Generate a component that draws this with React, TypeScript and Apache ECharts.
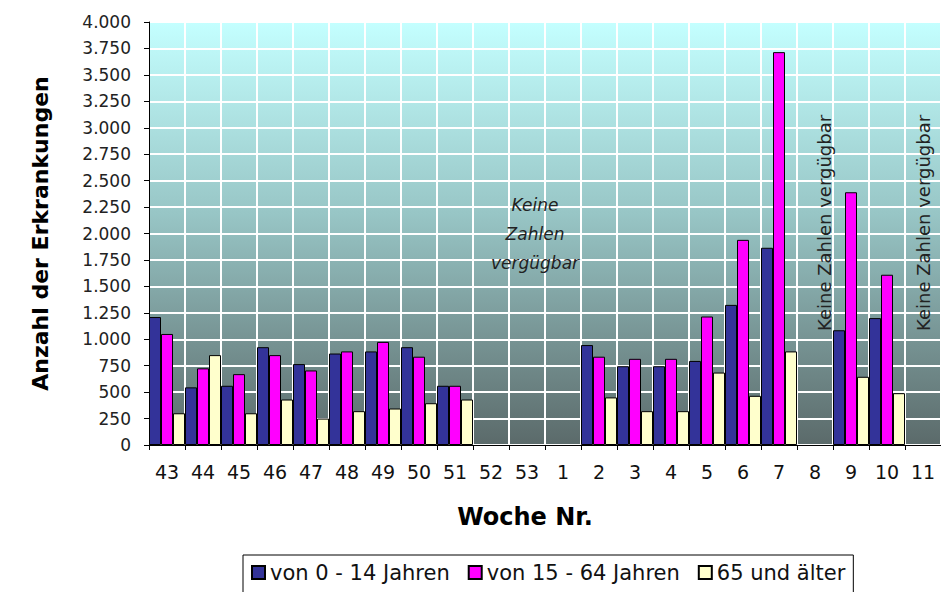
import React, { useEffect, useRef } from "react";
import * as echarts from "echarts";

const weeks = ["43", "44", "45", "46", "47", "48", "49", "50", "51", "52", "53", "1", "2", "3", "4", "5", "6", "7", "8", "9", "10", "11"];
const age0to14 = [1210, 545, 560, 925, 765, 865, 885, 925, 560, null, null, null, 945, 745, 745, 795, 1325, 1865, null, 1085, 1200, null];
const age15to64 = [1050, 725, 670, 850, 705, 885, 975, 835, 560, null, null, null, 835, 815, 815, 1215, 1940, 3715, null, 2390, 1610, null];
const age65plus = [300, 850, 300, 430, 250, 320, 345, 395, 430, null, null, null, 450, 320, 320, 685, 465, 885, null, 645, 490, null];
const seriesNames = ["von 0 - 14 Jahren", "von 15 - 64 Jahren", "65 und älter"];
const seriesColors = ["#333399", "#FF00FF", "#FFFFCC"];
const noteText = "Keine\nZahlen\nvergügbar";
const noteVertical = "Keine Zahlen vergügbar";
const noteAt: [string, number] = ["53", 2000];
const verticalNotesAt: [string, number][] = [["8", 2100], ["11", 2100]];

const FONT = "DejaVu Sans";

function fmt(v: number) {
  return String(v).replace(/\B(?=(\d{3})+(?!\d))/g, ".");
}

export default function App() {
  const ref = useRef<HTMLDivElement>(null);
  useEffect(() => {
    if (!ref.current) return;
    const chart = echarts.init(ref.current, undefined, { renderer: "svg" });
    const data = [age0to14, age15to64, age65plus];
    chart.setOption({
      animation: false,
      backgroundColor: "#ffffff",
      textStyle: { fontFamily: FONT },
      grid: {
        left: 149,
        top: 22,
        width: 799,
        height: 423,
        show: true,
        backgroundColor: new echarts.graphic.LinearGradient(0, 0, 0, 1, [
          { offset: 0, color: "#c4ffff" },
          { offset: 0.45, color: "#98c6c6" },
          { offset: 1, color: "#5b6a6a" },
        ]),
        borderColor: "#000",
        borderWidth: 1,
      },
      legend: {
        left: 243,
        top: 555,
        padding: [7, 8, 14, 8],
        borderColor: "#000",
        borderWidth: 1,
        backgroundColor: "#fff",
        itemWidth: 13,
        itemHeight: 13,
        itemGap: 18,
        icon: "rect",
        textStyle: { fontFamily: FONT, fontSize: 21, color: "#111" },
        data: seriesNames,
      },
      xAxis: {
        type: "category",
        data: weeks,
        name: "Woche Nr.",
        nameLocation: "middle",
        nameGap: 60,
        nameTextStyle: { fontFamily: FONT, fontWeight: "bold", fontSize: 24, color: "#000", padding: [0, 40, 0, 0] },
        axisLine: { lineStyle: { color: "#000", width: 1 } },
        axisTick: { show: true, interval: 0, length: 5, lineStyle: { color: "#000" } },
        axisLabel: { interval: 0, margin: 17, fontFamily: FONT, fontSize: 19, color: "#111" },
        splitLine: { show: true, interval: 0, lineStyle: { color: "#ffffff", width: 2 } },
      },
      yAxis: {
        type: "value",
        min: 0,
        max: 4000,
        interval: 250,
        name: "Anzahl der Erkrankungen",
        nameLocation: "middle",
        nameRotate: 90,
        nameGap: 98,
        nameTextStyle: { fontFamily: FONT, fontWeight: "bold", fontSize: 22, color: "#000" },
        axisLine: { show: true, lineStyle: { color: "#000", width: 1 } },
        axisTick: { show: true, length: 5, lineStyle: { color: "#000" } },
        axisLabel: { margin: 18, fontFamily: FONT, fontSize: 17, color: "#222", formatter: (v: number) => fmt(v) },
        splitLine: { show: true, lineStyle: { color: "#ffffff", width: 2 } },
      },
      series: seriesNames.map((name, i) => ({
        name,
        type: "bar",
        data: data[i],
        barGap: "0%",
        barCategoryGap: "0%",
        itemStyle: { color: seriesColors[i], borderColor: "#000", borderWidth: 1 },
      })),
    });

    const p = chart.convertToPixel({ gridIndex: 0 }, noteAt as any) as number[];
    const graphics: any[] = [
      {
        type: "text",
        x: p[0] + 8,
        y: p[1],
        z: 10,
        style: {
          text: noteText,
          fontFamily: FONT,
          fontStyle: "italic",
          fontSize: 17,
          lineHeight: 29,
          fill: "#222",
          align: "center",
          verticalAlign: "middle",
        },
      },
    ];
    verticalNotesAt.forEach((pos, k) => {
      const q = chart.convertToPixel({ gridIndex: 0 }, pos as any) as number[];
      graphics.push({
        type: "text",
        x: q[0] + (k === 0 ? 9 : 0),
        y: q[1],
        rotation: Math.PI / 2,
        z: 10,
        style: {
          text: noteVertical,
          fontFamily: FONT,
          fontSize: 18,
          fill: "#222",
          align: "center",
          verticalAlign: "middle",
        },
      });
    });
    chart.setOption({ graphic: graphics });
    return () => chart.dispose();
  }, []);
  return <div ref={ref} style={{ position: "fixed", left: 0, top: 0, width: 941, height: 592 }} />;
}
